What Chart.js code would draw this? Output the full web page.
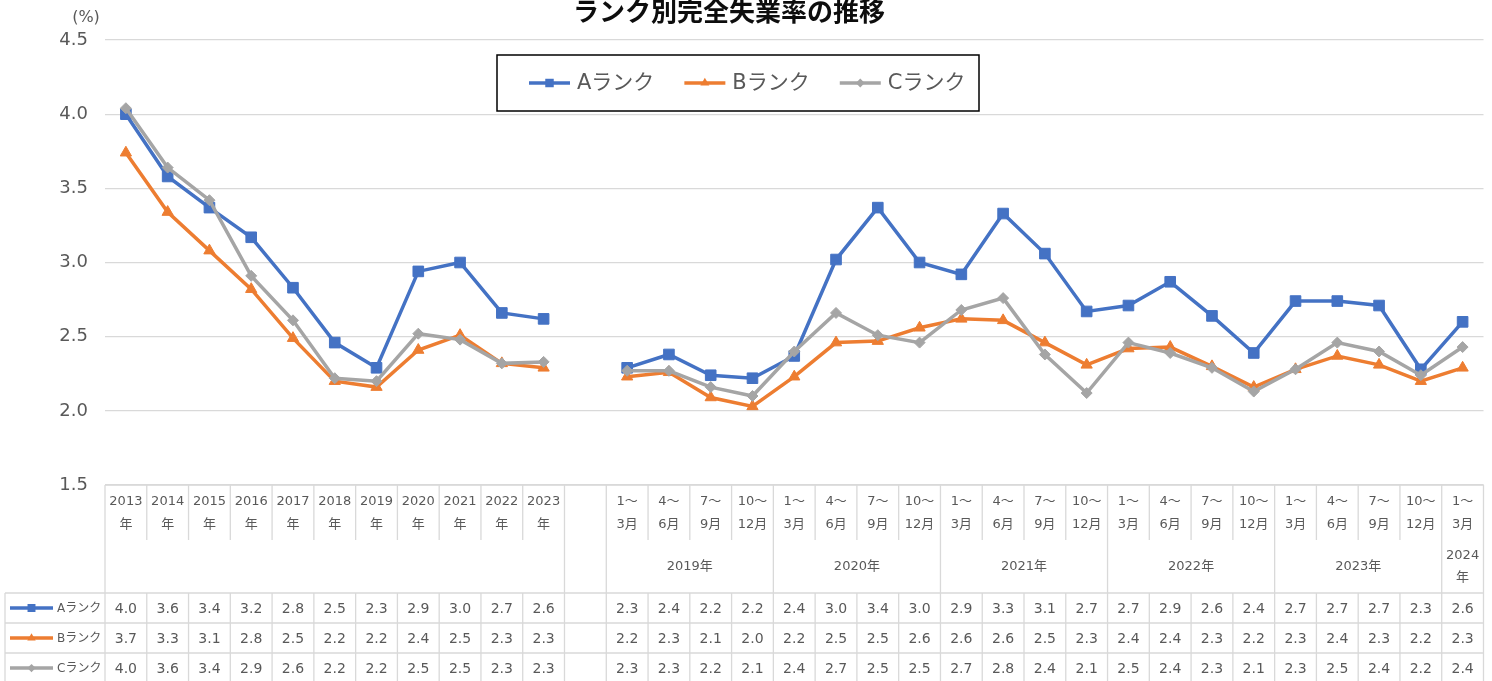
<!DOCTYPE html>
<html lang="ja">
<head>
<meta charset="utf-8">
<title>ランク別完全失業率の推移</title>
<script src="https://cdn.jsdelivr.net/npm/chart.js@4/dist/chart.umd.min.js"></script>
<style>
  html, body { margin: 0; padding: 0; background: #fff; }
  #wrap { width: 1492px; height: 681px; }
</style>
</head>
<body>
<div id="wrap"><canvas id="rankChart" width="1492" height="681"></canvas></div>
<script>
/* ── DATA ──────────────────────────────────────────────────── */
const annualYears   = ['2013', '2014', '2015', '2016', '2017', '2018', '2019', '2020', '2021', '2022', '2023'];
const quarterMonths = [['1～', '3月'], ['4～', '6月'], ['7～', '9月'], ['10～', '12月']];
const quarterYears  = [['2019年'], ['2020年'], ['2021年'], ['2022年'], ['2023年'], ['2024', '年']];
const quarterCounts = [4, 4, 4, 4, 4, 1];
const yTicks        = [1.5, 2.0, 2.5, 3.0, 3.5, 4.0, 4.5];

const aAnnual  = [4.00, 3.58, 3.37, 3.17, 2.83, 2.46, 2.29, 2.94, 3.00, 2.66, 2.62];
const bAnnual  = [3.74, 3.34, 3.08, 2.82, 2.49, 2.20, 2.16, 2.41, 2.51, 2.32, 2.29];
const cAnnual  = [4.04, 3.64, 3.42, 2.91, 2.61, 2.22, 2.20, 2.52, 2.48, 2.32, 2.33];

const aQuarter = [2.29, 2.38, 2.24, 2.22, 2.37, 3.02, 3.37, 3.00, 2.92, 3.33, 3.06, 2.67, 2.71, 2.87, 2.64, 2.39, 2.74, 2.74, 2.71, 2.28, 2.60];
const bQuarter = [2.23, 2.26, 2.09, 2.03, 2.23, 2.46, 2.47, 2.56, 2.62, 2.61, 2.46, 2.31, 2.42, 2.43, 2.30, 2.16, 2.28, 2.37, 2.31, 2.20, 2.29];
const cQuarter = [2.27, 2.27, 2.16, 2.10, 2.40, 2.66, 2.51, 2.46, 2.68, 2.76, 2.38, 2.12, 2.46, 2.39, 2.29, 2.13, 2.28, 2.46, 2.40, 2.24, 2.43];

/* ── STYLE ─────────────────────────────────────────────────── */
const TEXT  = '#595959';
const LINE  = '#D9D9D9';
const FONT  = "'DejaVu Sans', 'Noto Sans CJK JP', sans-serif";
const JFONT = "'Noto Sans CJK JP', sans-serif";

const series = [
  { name: 'Aランク', color: '#4472C4', style: 'rect',     radius: 7.5, data: [...aAnnual, null, ...aQuarter] },
  { name: 'Bランク', color: '#ED7D31', style: 'triangle', radius: 6.5, data: [...bAnnual, null, ...bQuarter] },
  { name: 'Cランク', color: '#A5A5A5', style: 'rectRot',  radius: 5.5, data: [...cAnnual, null, ...cQuarter] },
];

/* ── COLUMNS / GROUPS for the data table ───────────────────── */
const columns = annualYears.map(y => ({ top: [y, '年'] }));
const groups  = [{ from: 0, to: annualYears.length - 1, label: [] }];
columns.push({ top: [] });                       // empty spacer column
groups.push({ from: columns.length - 1, to: columns.length - 1, label: [] });
quarterYears.forEach((label, i) => {
  const from = columns.length;
  for (let k = 0; k < quarterCounts[i]; k++) columns.push({ top: quarterMonths[k] });
  groups.push({ from, to: columns.length - 1, label });
});
const labels = columns.map(c => c.top.join(''));

function drawMarker(ctx, style, x, y, r, color) {
  ctx.save();
  ctx.fillStyle = color;
  ctx.beginPath();
  if (style === 'rect') {
    const s = r * Math.SQRT1_2;
    ctx.rect(x - s, y - s, 2 * s, 2 * s);
  } else if (style === 'triangle') {
    ctx.moveTo(x, y - r);
    ctx.lineTo(x + r * 0.866, y + r * 0.5);
    ctx.lineTo(x - r * 0.866, y + r * 0.5);
    ctx.closePath();
  } else {
    ctx.moveTo(x, y - r); ctx.lineTo(x + r, y); ctx.lineTo(x, y + r); ctx.lineTo(x - r, y);
    ctx.closePath();
  }
  ctx.fill();
  ctx.restore();
}

function legendKey(ctx, s, x1, x2, y, scale) {
  ctx.save();
  ctx.strokeStyle = s.color;
  ctx.lineWidth = 3.5;
  ctx.beginPath(); ctx.moveTo(x1, y); ctx.lineTo(x2, y); ctx.stroke();
  ctx.restore();
  drawMarker(ctx, s.style, (x1 + x2) / 2, y, s.radius * scale, s.color);
}

/* ── PLUGIN: title, unit, legend box, data table ───────────── */
const decorPlugin = {
  id: 'decor',
  afterDraw(chart) {
    const ctx  = chart.ctx;
    const x    = chart.scales.x;
    const area = chart.chartArea;
    const half = (x.getPixelForValue(1) - x.getPixelForValue(0)) / 2;
    const colL = i => x.getPixelForValue(i) - half;
    const colR = i => x.getPixelForValue(i) + half;
    const n    = columns.length;

    ctx.save();

    // title (top is cut off in the original)
    ctx.fillStyle = '#0d0d0d';
    ctx.font = `bold 26px ${JFONT}`;
    ctx.textAlign = 'center';
    ctx.textBaseline = 'alphabetic';
    ctx.fillText('ランク別完全失業率の推移', 729, 21);

    // unit
    ctx.fillStyle = TEXT;
    ctx.font = `16px ${FONT}`;
    ctx.textBaseline = 'middle';
    ctx.fillText('(%)', 86, 18);

    // legend box
    ctx.fillStyle = '#fff';
    ctx.fillRect(497, 55, 482, 56);
    ctx.strokeStyle = '#000';
    ctx.lineWidth = 1.5;
    ctx.strokeRect(497, 55, 482, 56);
    ctx.font = `21px ${FONT}`;
    ctx.textAlign = 'left';
    let lx = 529;
    series.forEach(s => {
      legendKey(ctx, s, lx, lx + 41, 83, 0.8);
      ctx.fillStyle = TEXT;
      ctx.fillText(s.name, lx + 48, 84);
      lx += 48 + ctx.measureText(s.name).width + 30;
    });

    // table geometry
    const top   = area.bottom;
    const row1  = top + 55;
    const row2  = top + 108;
    const rowH  = 30;
    const left  = area.left;
    const right = colR(n - 1);
    const bottom = row2 + rowH * series.length;

    ctx.strokeStyle = LINE;
    ctx.lineWidth = 1.3;
    ctx.beginPath();
    ctx.moveTo(left, top); ctx.lineTo(right, top);
    for (let r = 0; r <= series.length; r++) {
      ctx.moveTo(5, row2 + r * rowH); ctx.lineTo(right, row2 + r * rowH);
    }
    ctx.moveTo(5, row2); ctx.lineTo(5, bottom);
    ctx.moveTo(left, top); ctx.lineTo(left, bottom);
    ctx.moveTo(right, top); ctx.lineTo(right, bottom);
    for (let i = 0; i < n - 1; i++) {
      const bx = colR(i);
      const boundary = groups.some(g => g.to === i);
      ctx.moveTo(bx, top);
      if (boundary) {
        ctx.lineTo(bx, bottom);
      } else {
        ctx.lineTo(bx, row1);
        ctx.moveTo(bx, row2); ctx.lineTo(bx, bottom);
      }
    }
    ctx.stroke();

    // level-1 labels
    ctx.fillStyle = TEXT;
    ctx.textAlign = 'center';
    ctx.font = `13px ${FONT}`;
    columns.forEach((c, i) => {
      const cx = x.getPixelForValue(i);
      c.top.forEach((t, k) => ctx.fillText(t, cx, top + 17 + k * 23));
    });

    // group labels
    groups.forEach(g => {
      const cx = (colL(g.from) + colR(g.to)) / 2;
      const cy = (row1 + row2) / 2 - (g.label.length - 1) * 11;
      g.label.forEach((t, k) => ctx.fillText(t, cx, cy + k * 22));
    });

    // data rows
    series.forEach((s, r) => {
      const cy = row2 + rowH * r + rowH / 2;
      legendKey(ctx, s, 10, 53, cy, 0.75);
      ctx.fillStyle = TEXT;
      ctx.textAlign = 'left';
      ctx.font = `12px ${FONT}`;
      ctx.fillText(s.name, 57, cy + 1, left - 60);
      ctx.textAlign = 'center';
      ctx.font = `14px ${FONT}`;
      s.data.forEach((v, i) => {
        if (v !== null) ctx.fillText(v.toFixed(1), x.getPixelForValue(i), cy + 1);
      });
    });

    ctx.restore();
  }
};

/* ── CHART ─────────────────────────────────────────────────── */
new Chart(document.getElementById('rankChart'), {
  type: 'line',
  data: {
    labels,
    datasets: series.map((s, i) => ({
      label: s.name,
      data: s.data,
      borderColor: s.color,
      backgroundColor: s.color,
      pointStyle: s.style,
      pointRadius: s.radius,
      pointBorderWidth: 1,
      borderWidth: 3.5,
      tension: 0,
      spanGaps: false,
      order: series.length - i,
    }))
  },
  options: {
    responsive: false,
    animation: false,
    layout: { padding: { top: 40, bottom: 196, left: 0, right: 5 } },
    plugins: {
      legend:  { display: false },
      tooltip: { enabled: false },
      title:   { display: false }
    },
    scales: {
      x: { type: 'category', offset: true, display: false },
      y: {
        min: 1.5, max: 4.5,
        afterFit(scale) { scale.width = 105; },
        afterBuildTicks(scale) { scale.ticks = yTicks.map(v => ({ value: v })); },
        ticks: {
          padding: 17,
          color: TEXT,
          font: { family: FONT, size: 18 },
          callback: v => Number(v).toFixed(1)
        },
        grid:   { color: LINE, lineWidth: 1.3, drawTicks: false },
        border: { display: false }
      }
    }
  },
  plugins: [decorPlugin]
});
</script>
</body>
</html>
